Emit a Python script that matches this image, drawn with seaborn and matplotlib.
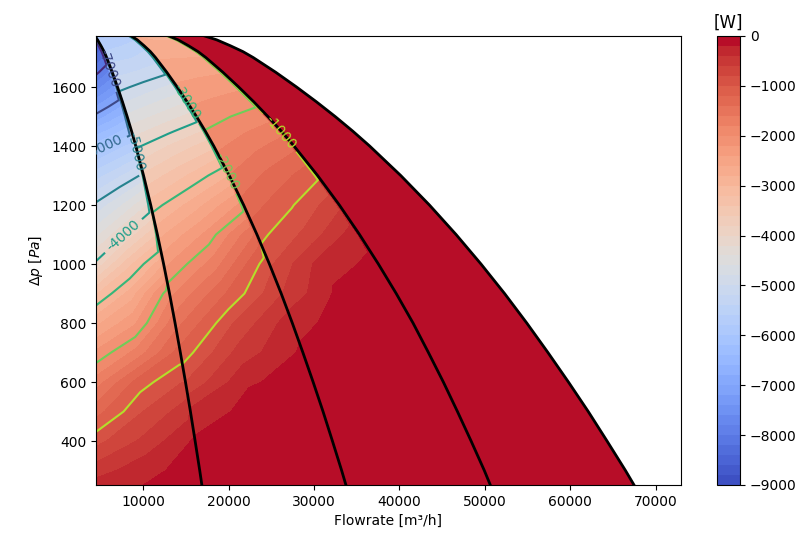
import numpy as np
import pandas as pd
import seaborn as sns
import matplotlib.pyplot as plt
from matplotlib.colors import Normalize

dp_rows = [1773, 1760, 1740, 1720, 1700, 1650, 1600, 1550, 1500, 1450, 1400, 1300,
           1200, 1100, 1000, 900, 800, 700, 600, 500, 400, 300, 251]

# fan curves (1, 2, 3 and 4 fans), flowrate [m3/h] at each dp row
curve_1 = [4300, 4650, 5050, 5420, 5720, 6380, 6990, 7570, 8120, 8640, 9130, 10040,
           10880, 11660, 12390, 13080, 13730, 14350, 14950, 15530, 16080, 16620, 16870]
curve_2 = [8600, 9300, 10100, 10840, 11440, 12760, 13980, 15140, 16240, 17280, 18260, 20080,
           21760, 23320, 24780, 26160, 27460, 28700, 29900, 31060, 32160, 33240, 33740]
curve_3 = [13000, 14080, 15300, 16420, 17330, 19330, 21180, 22940, 24600, 26180, 27660, 30420,
           32970, 35330, 37540, 39630, 41600, 43400, 45150, 46800, 48400, 49950, 50650]
curve_4 = [17200, 18600, 20200, 21680, 22880, 25520, 27960, 30280, 32480, 34560, 36520, 40160,
           43520, 46640, 49560, 52320, 54920, 57400, 59800, 62120, 64320, 66480, 67480]

# power [W]: left edge, middle of each zone and both sides of every fan curve
p_left     = [-8800, -8720, -8600, -8480, -8360, -8060, -7700, -7320, -6930, -6520, -6110, -5490,
              -4950, -4460, -3950, -3230, -2660, -2160, -1710, -1290, -870, -500, -310]
p_m1       = [-8800, -8720, -8575, -8430, -8285, -7925, -7535, -7135, -6730, -6315, -5915, -5250,
              -4610, -3990, -3280, -2710, -2240, -1730, -1100, -810, -550, -250, -190]
p_c1_left  = [-8800, -8720, -8550, -8380, -8210, -7790, -7370, -6950, -6530, -6110, -5730, -4985,
              -4190, -3450, -2690, -1925, -1530, -1140, -800, -480, -190, -120, -100]
p_c1_right = [-5850, -5800, -5700, -5600, -5480, -5280, -5070, -4830, -4560, -4300, -4040, -3570,
              -3110, -2680, -2260, -1860, -1490, -1130, -800, -350, -170, -110, -100]
p_m2       = [-5800, -5720, -5610, -5500, -5420, -5180, -4910, -4630, -4340, -4050, -3760, -3220,
              -2690, -2160, -1690, -1220, -810, -520, -220, -110, -100, -100, -100]
p_c2_left  = [-5700, -5620, -5500, -5380, -5310, -5050, -4740, -4430, -4120, -3800, -3480, -2830,
              -2160, -1410, -890, -640, -300, -180, -130, -110, -100, -100, -100]
p_c2_right = [-2800, -2770, -2710, -2650, -2620, -2490, -2370, -2240, -2120, -1990, -1860, -1600,
              -1340, -1075, -840, -610, -260, -170, -120, -100, -100, -100, -100]
p_m3       = [-2825, -2810, -2720, -2660, -2610, -2455, -2310, -2155, -2000, -1830, -1665, -1330,
              -1030, -745, -300, -160, -120, -110, -100, -100, -100, -100, -100]
p_c3_left  = [-2850, -2800, -2735, -2665, -2595, -2420, -2245, -2070, -1880, -1670, -1470, -1060,
              -670, -275, -150, -120, -100, -100, -100, -100, -100, -100, -100]
p_c3_right = [-100, -100, -100, -100, -100, -100, -100, -100, -100, -100, -100, -100,
              -100, -100, -100, -100, -100, -100, -100, -100, -100, -100, -100]
p_c4       = [-100, -100, -100, -100, -100, -100, -100, -100, -100, -100, -100, -100,
              -100, -100, -100, -100, -100, -100, -100, -100, -100, -100, -100]

q_min, q_max = 4470, 72980
dp_min, dp_max = 251, 1773
fill_levels = np.arange(-9000, 1, 200)
line_levels = np.arange(-8000, -999, 1000)

# curvilinear grid following the fan curves, the jump sits just left of each curve
n = len(dp_rows)
gap = 350
xl = np.full(n, q_min)
c1 = np.maximum(xl, curve_1)
c1_in = np.maximum(xl, np.array(curve_1) - gap)
c2 = np.array(curve_2); c3 = np.array(curve_3); c4 = np.array(curve_4)
X = np.column_stack([xl, (xl + c1_in) / 2, c1_in, c1, (c1 + c2 - gap) / 2, c2 - gap, c2,
                     (c2 + c3 - gap) / 2, c3 - gap, c3, c4, np.full(n, q_max)])
Y = np.repeat(np.array(dp_rows)[:, None], X.shape[1], axis=1)
Z = np.column_stack([p_left, p_m1, p_c1_left, p_c1_right, p_m2, p_c2_left, p_c2_right,
                     p_m3, p_c3_left, p_c3_right, p_c4, np.full(n, np.nan)])
Z = np.ma.masked_invalid(Z)

fig = plt.figure(figsize=(8.08, 5.42), dpi=100)
ax = fig.add_axes([0.1188, 0.1052, 0.724, 0.8284])
cax = fig.add_axes([0.8874, 0.1052, 0.0285, 0.8284])

cf = ax.contourf(X, Y, Z, levels=fill_levels, cmap='coolwarm')
cl = ax.contour(X, Y, Z, levels=line_levels, cmap='viridis', norm=Normalize(-9000, 0), linewidths=1.5)
label_spots = [(5970, 1664), (5500, 1392), (9085, 1380), (7700, 1095),
               (15020, 1549), (19710, 1315), (26070, 1447)]
labels = ax.clabel(cl, fmt='%d', fontsize=10, inline=True, manual=label_spots)
for t in labels:
    t.set_zorder(5)

curves = pd.DataFrame({
    'Q': curve_1 + curve_2 + curve_3 + curve_4,
    'dp': dp_rows * 4,
    'fans': [1] * n + [2] * n + [3] * n + [4] * n,
})
sns.lineplot(data=curves, x='Q', y='dp', hue='fans', palette=['black'] * 4, sort=False,
             estimator=None, legend=False, linewidth=2, zorder=4, ax=ax)

ax.set_xlim(q_min, q_max)
ax.set_ylim(dp_min, dp_max)
ax.set_xticks(np.arange(10000, 70001, 10000))
ax.set_yticks(np.arange(400, 1601, 200))
ax.set_xlabel('Flowrate [m³/h]')
ax.set_ylabel(r'$\Delta p$ $[Pa]$')

cbar = fig.colorbar(cf, cax=cax, ticks=np.arange(-9000, 1, 1000))
cbar.ax.set_title('[W]')

fig.savefig('out.png', dpi=100)
